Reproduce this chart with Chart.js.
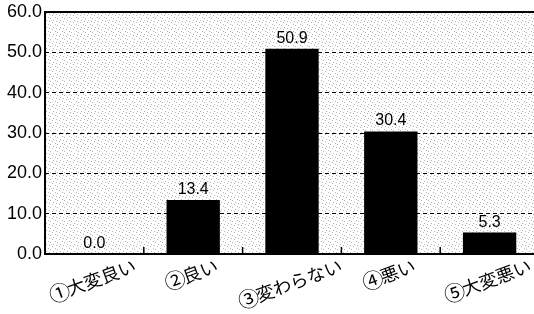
<!DOCTYPE html>
<html>
<head>
<meta charset="utf-8">
<script src="https://cdn.jsdelivr.net/npm/chart.js@4/dist/chart.umd.min.js"></script>
<style>
  html, body { margin: 0; padding: 0; background: #fff; overflow: hidden; }
  #wrap { width: 539px; height: 314px; }
</style>
</head>
<body>
<div id="wrap"><canvas id="myChart" width="539" height="314"></canvas></div>
<script>
// chart data
const categories = ['①大変良い', '②良い', '③変わらない', '④悪い', '⑤大変悪い'];
const values = [0.0, 13.4, 50.9, 30.4, 5.3];
const yMin = 0;
const yMax = 60;
const yStep = 10;

const numFont = '"Liberation Sans", Arial, sans-serif';
const jpFont = '"Noto Sans CJK JP", sans-serif';

/* small stipple tile, used as the plot background */
function makeStipple(ctx) {
  const tile = document.createElement('canvas');
  tile.width = 7;
  tile.height = 7;
  const t = tile.getContext('2d');
  t.fillStyle = '#ffffff';
  t.fillRect(0, 0, 7, 7);
  t.fillStyle = '#b4b4b4';
  [[0, 0], [3, 1], [6, 3], [1, 4], [4, 6]].forEach(function(p) {
    t.fillRect(p[0], p[1], 1, 1);
  });
  return ctx.createPattern(tile, 'repeat');
}

const framePlugin = {
  id: 'frame',
  beforeDraw(chart) {
    const ctx = chart.ctx;
    const a = chart.chartArea;
    ctx.save();
    ctx.fillStyle = makeStipple(ctx);
    ctx.fillRect(a.left, a.top, a.right - a.left, a.bottom - a.top);
    ctx.restore();
  },
  afterDraw(chart) {
    const ctx = chart.ctx;
    const a = chart.chartArea;
    const xs = chart.scales.x;

    ctx.save();
    // axis lines + top border
    ctx.strokeStyle = '#000';
    ctx.lineWidth = 2;
    ctx.beginPath();
    ctx.moveTo(a.right, a.top);
    ctx.lineTo(a.left, a.top);
    ctx.lineTo(a.left, a.bottom);
    ctx.lineTo(a.right, a.bottom);
    ctx.stroke();

    // small ticks between categories, pointing up
    ctx.lineWidth = 1.5;
    for (let i = 0; i < categories.length - 1; i++) {
      const x = (xs.getPixelForValue(i) + xs.getPixelForValue(i + 1)) / 2;
      ctx.beginPath();
      ctx.moveTo(x, a.bottom);
      ctx.lineTo(x, a.bottom - 7);
      ctx.stroke();
    }

    // value labels above bars
    const meta = chart.getDatasetMeta(0);
    ctx.fillStyle = '#000';
    ctx.font = '16px ' + numFont;
    ctx.textAlign = 'center';
    ctx.textBaseline = 'alphabetic';
    meta.data.forEach(function(bar, i) {
      ctx.fillText(values[i].toFixed(1), bar.x, bar.y - 6);
    });

    // rotated category labels; the circled number gets a bigger font
    // so its circle is as tall as the kanji (as in the print)
    const ang = 20 * Math.PI / 180;
    const numF = '21px ' + jpFont;
    const txtF = '18px ' + jpFont;
    categories.forEach(function(label, i) {
      const head = label.charAt(0);
      const rest = label.slice(1);
      ctx.font = numF;
      const wh = ctx.measureText(head).width - 2;
      ctx.font = txtF;
      const wr = ctx.measureText(rest).width;
      const w = wh + wr;
      const cx = xs.getPixelForValue(i) - 2;
      const cy = a.bottom + 11 + (w / 2) * Math.sin(ang);
      ctx.save();
      ctx.translate(cx, cy);
      ctx.rotate(-ang);
      ctx.textAlign = 'left';
      ctx.textBaseline = 'middle';
      ctx.font = numF;
      ctx.fillText(head, -w / 2, 0);
      ctx.font = txtF;
      ctx.fillText(rest, -w / 2 + wh, 0);
      ctx.restore();
    });
    ctx.restore();
  }
};

window.onload = function() {
  const ctx = document.getElementById('myChart').getContext('2d');
  new Chart(ctx, {
    type: 'bar',
    data: {
      labels: categories,
      datasets: [{
        data: values,
        backgroundColor: '#000',
        borderWidth: 0,
        barPercentage: 0.54,
        categoryPercentage: 1.0
      }]
    },
    options: {
      responsive: false,
      animation: false,
      events: [],
      layout: { padding: { top: 3, left: 0, right: 0, bottom: 0 } },
      plugins: {
        legend: { display: false },
        tooltip: { enabled: false }
      },
      scales: {
        x: {
          offset: true,
          grid: { display: false },
          border: { display: false },
          ticks: { display: false },
          afterFit: function(s) { s.height = 60; }
        },
        y: {
          min: yMin,
          max: yMax,
          ticks: {
            stepSize: yStep,
            padding: 3,
            color: '#000',
            font: { family: numFont, size: 18, lineHeight: 1.0 },
            callback: function(v) { return Number(v).toFixed(1); }
          },
          grid: {
            color: '#000',
            lineWidth: 1,
            drawTicks: false
          },
          border: { display: false, dash: [4, 3] },
          afterFit: function(s) { s.width = 45; }
        }
      }
    },
    plugins: [framePlugin]
  });
};
</script>
</body>
</html>
